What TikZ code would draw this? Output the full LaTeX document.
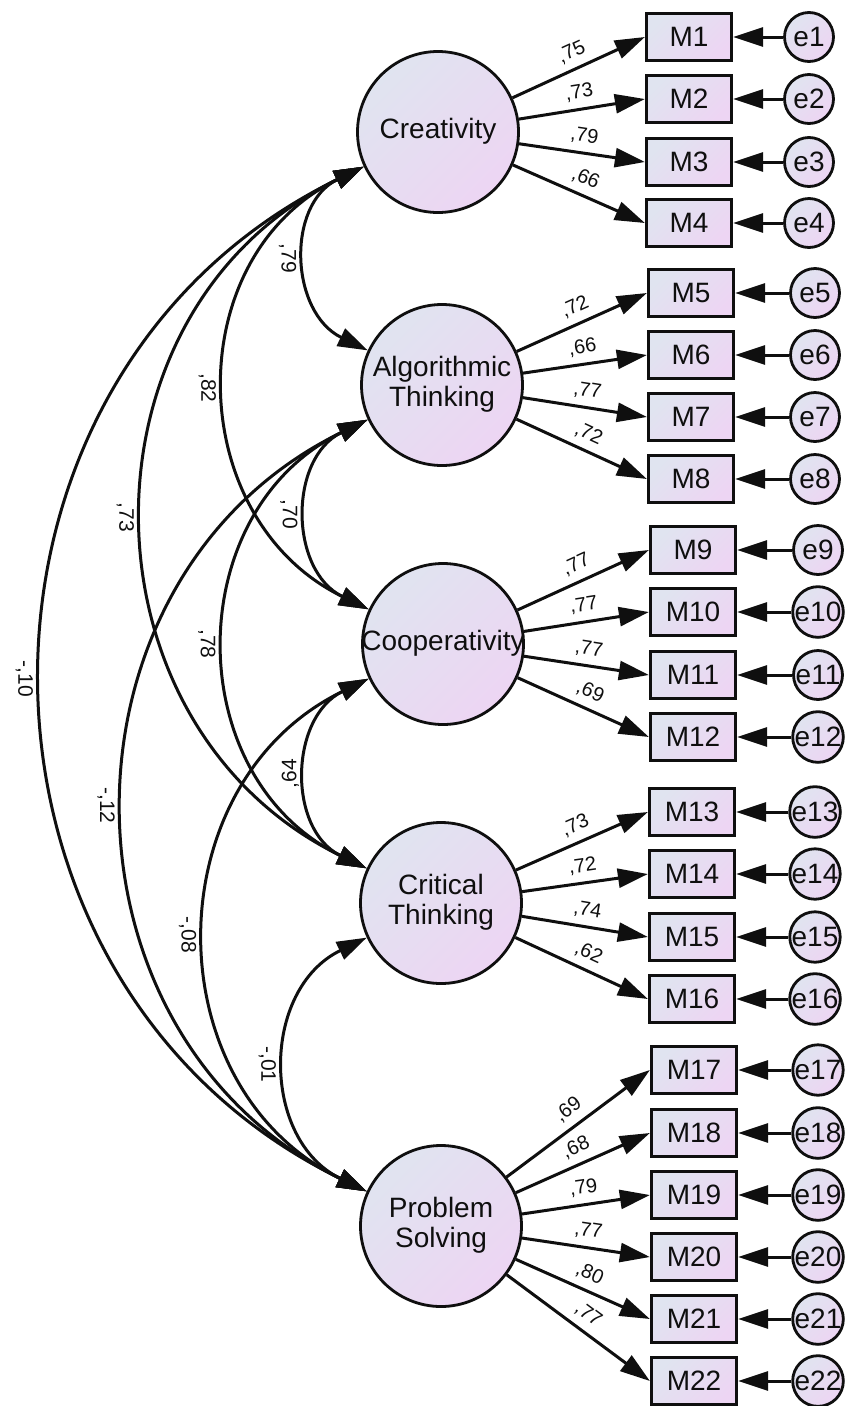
\documentclass[tikz,border=0pt]{standalone}
\usepackage{fontspec}
\setmainfont{Liberation Sans}
\usetikzlibrary{arrows.meta}
\definecolor{fillA}{RGB}{224,228,240}
\definecolor{fillB}{RGB}{237,213,243}
\definecolor{ink}{RGB}{15,15,15}
\newcommand{\lattext}[1]{\makebox[0pt]{\begin{tabular}{@{}c@{}}#1\end{tabular}}}
\begin{document}
\begin{tikzpicture}[x=1pt,y=1pt,
  >={Triangle[length=30pt,width=19pt]},
  shadefill/.style={top color=fillA, bottom color=fillB, shading angle=45},
  latent/.style={draw=ink, circle, line width=2.8pt, minimum size=161pt, inner sep=0pt, shadefill, font=\fontsize{28}{30}\selectfont, text=ink},
  obs/.style={draw=ink, rectangle, line width=3.2pt, minimum width=85pt, minimum height=47pt, inner sep=0pt, shadefill, font=\fontsize{28}{30}\selectfont, text=ink},
  err/.style={draw=ink, circle, line width=2.8pt, minimum size=49pt, inner sep=0pt, shadefill, font=\fontsize{28}{30}\selectfont, text=ink},
  load/.style={->, draw=ink, line width=3pt},
  cov/.style={<->, draw=ink, line width=3pt},
  llab/.style={pos=0.5, sloped, above=7pt, inner sep=0pt, font=\fontsize{20}{22}\selectfont, text=ink},
  clab/.style={pos=0.5, rotate=-90, anchor=north, inner sep=0pt, outer sep=11pt, font=\fontsize{21}{23}\selectfont, text=ink},
  clabr/.style={pos=0.5, rotate=90, anchor=south, inner sep=0pt, outer sep=9pt, font=\fontsize{21}{23}\selectfont, text=ink}
]
\useasboundingbox (0,0) rectangle (854,-1406);

% latent variables
\node[latent] (C)  at (438,-132)  {\lattext{Creativity}};
\node[latent] (A)  at (442,-385)  {\lattext{Algorithmic\\Thinking}};
\node[latent] (Co) at (443,-644)  {\lattext{Cooperativity}};
\node[latent] (Cr) at (441,-903)  {\lattext{Critical\\Thinking}};
\node[latent] (P)  at (441,-1226) {\lattext{Problem\\Solving}};

% observed variables and errors
\node[obs] (M1) at (689,-37)  {M1};  \node[err] (e1) at (809,-37)  {e1};
\node[obs] (M2) at (689,-99)  {M2};  \node[err] (e2) at (809,-99)  {e2};
\node[obs] (M3) at (689,-162) {M3};  \node[err] (e3) at (809,-162) {e3};
\node[obs] (M4) at (689,-223) {M4};  \node[err] (e4) at (809,-223) {e4};

\node[obs] (M5) at (691,-293) {M5};  \node[err] (e5) at (815,-293) {e5};
\node[obs] (M6) at (691,-355) {M6};  \node[err] (e6) at (815,-355) {e6};
\node[obs] (M7) at (691,-417) {M7};  \node[err] (e7) at (815,-417) {e7};
\node[obs] (M8) at (691,-479) {M8};  \node[err] (e8) at (815,-479) {e8};

\node[obs] (M9)  at (693,-550) {M9};   \node[err] (e9)  at (818,-550) {e9};
\node[obs] (M10) at (693,-612) {M10};  \node[err] (e10) at (818,-612) {e10};
\node[obs] (M11) at (693,-675) {M11};  \node[err] (e11) at (818,-675) {e11};
\node[obs] (M12) at (693,-737) {M12};  \node[err] (e12) at (818,-737) {e12};

\node[obs] (M13) at (692,-812) {M13};  \node[err] (e13) at (815,-812) {e13};
\node[obs] (M14) at (692,-874) {M14};  \node[err] (e14) at (815,-874) {e14};
\node[obs] (M15) at (692,-937) {M15};  \node[err] (e15) at (815,-937) {e15};
\node[obs] (M16) at (692,-999) {M16};  \node[err] (e16) at (815,-999) {e16};

\node[obs] (M17) at (694,-1070) {M17};  \node[err] (e17) at (818,-1070) {e17};
\node[obs] (M18) at (694,-1133) {M18};  \node[err] (e18) at (818,-1133) {e18};
\node[obs] (M19) at (694,-1195) {M19};  \node[err] (e19) at (818,-1195) {e19};
\node[obs] (M20) at (694,-1257) {M20};  \node[err] (e20) at (818,-1257) {e20};
\node[obs] (M21) at (694,-1319) {M21};  \node[err] (e21) at (818,-1319) {e21};
\node[obs] (M22) at (694,-1381) {M22};  \node[err] (e22) at (818,-1381) {e22};

% error arrows
\foreach \i in {1,...,22} { \draw[load] (e\i) -- (M\i); }

% loadings
\draw[load] (C) -- node[llab] {,75} (M1.west);
\draw[load] (C) -- node[llab] {,73} (M2.west);
\draw[load] (C) -- node[llab] {,79} (M3.west);
\draw[load] (C) -- node[llab] {,66} (M4.west);

\draw[load] (A) -- node[llab] {,72} (M5.west);
\draw[load] (A) -- node[llab] {,66} (M6.west);
\draw[load] (A) -- node[llab] {,77} (M7.west);
\draw[load] (A) -- node[llab] {,72} (M8.west);

\draw[load] (Co) -- node[llab] {,77} (M9.west);
\draw[load] (Co) -- node[llab] {,77} (M10.west);
\draw[load] (Co) -- node[llab] {,77} (M11.west);
\draw[load] (Co) -- node[llab] {,69} (M12.west);

\draw[load] (Cr) -- node[llab] {,73} (M13.west);
\draw[load] (Cr) -- node[llab] {,72} (M14.west);
\draw[load] (Cr) -- node[llab] {,74} (M15.west);
\draw[load] (Cr) -- node[llab] {,62} (M16.west);

\draw[load] (P) -- node[llab] {,69} (M17.west);
\draw[load] (P) -- node[llab] {,68} (M18.west);
\draw[load] (P) -- node[llab] {,79} (M19.west);
\draw[load] (P) -- node[llab] {,77} (M20.west);
\draw[load] (P) -- node[llab] {,80} (M21.west);
\draw[load] (P) -- node[llab] {,77} (M22.west);

% covariances (circular arcs approximated by Bezier curves)
\draw[cov] (C.205)  .. controls +(206:86.7)  and +(154:86.7)  .. (A.155)  node[clab]  {,79};
\draw[cov] (C.205)  .. controls +(206:206.7) and +(154:206.7) .. (Co.155) node[clab]  {,82};
\draw[cov] (C.205)  .. controls +(206:326.8) and +(154:326.8) .. (Cr.155) node[clab]  {,73};
\draw[cov] (C.205)  .. controls +(206:476.5) and +(154:476.5) .. (P.155)  node[clab]  {-,10};
\draw[cov] (A.205)  .. controls +(206:88.5)  and +(154:88.5)  .. (Co.155) node[clab]  {,70};
\draw[cov] (A.205)  .. controls +(206:208.6) and +(154:208.6) .. (Cr.155) node[clab]  {,78};
\draw[cov] (A.205)  .. controls +(206:358.3) and +(154:358.3) .. (P.155)  node[clab]  {-,12};
\draw[cov] (Co.205) .. controls +(206:88.5)  and +(154:88.5)  .. (Cr.155) node[clabr] {,64};
\draw[cov] (Co.205) .. controls +(206:238.2) and +(154:238.2) .. (P.155)  node[clab]  {-,08};
\draw[cov] (Cr.205) .. controls +(206:118.2) and +(154:118.2) .. (P.155)  node[clab]  {-,01};
\end{tikzpicture}
\end{document}
